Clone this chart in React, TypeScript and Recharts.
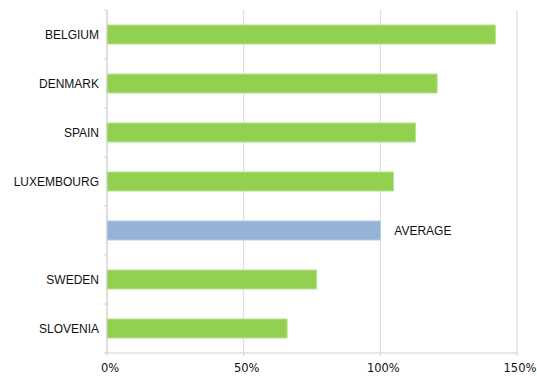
import { Bar, BarChart, CartesianGrid, Cell, LabelList, XAxis, YAxis } from "recharts"

const countries = ["BELGIUM", "DENMARK", "SPAIN", "LUXEMBOURG", "AVERAGE", "SWEDEN", "SLOVENIA"]
const shares = [142.1, 120.8, 112.9, 104.8, 100, 76.7, 65.9]
const xTicks = [0, 50, 100, 150]

const AVG = "AVERAGE"
const GREEN = "#92d050"
const BLUE = "#95b3d7"

const data = countries.map((name, i) => ({ name, value: shares[i] }))

const W = 537
const H = 378
const TOP = 10
const BOTTOM = 25

// category label + little boundary tick at the top of each band
function CountryTick(props: any) {
  const { x, y, payload, index } = props
  const band = (H - TOP - BOTTOM) / countries.length
  const name = payload.value as string
  return (
    <g>
      <line x1={x + 5} x2={x + 8} y1={y - band / 2} y2={y - band / 2} stroke="#d4d4d4" />
      {index === countries.length - 1 && (
        <line x1={x + 5} x2={x + 8} y1={y + band / 2} y2={y + band / 2} stroke="#d4d4d4" />
      )}
      {name !== AVG && (
        <text
          x={x}
          y={y}
          dy={4}
          textAnchor="end"
          fill="#111"
          fontSize={12}
          fontFamily="'Liberation Sans', Arial, sans-serif"
        >
          {name}
        </text>
      )}
    </g>
  )
}

function AvgLabel(props: any) {
  const { x, y, width, height, index } = props
  if (countries[index] !== AVG) return null
  return (
    <text
      x={x + width + 14}
      y={y + height / 2}
      dy={4}
      fill="#111"
      fontSize={12}
      fontFamily="'Liberation Sans', Arial, sans-serif"
    >
      {AVG}
    </text>
  )
}

function PctTick(props: any) {
  const { x, y, payload } = props
  return (
    <text
      x={x + 3}
      y={y + 14}
      textAnchor="middle"
      fill="#111"
      fontSize={11.5}
      fontFamily="'DejaVu Sans', Verdana, sans-serif"
    >
      {`${payload.value}%`}
    </text>
  )
}

export default function App() {
  return (
    <div style={{ position: "absolute", left: 0, top: 0, width: W, height: H, background: "#fff" }}>
      <BarChart
        width={W}
        height={H}
        data={data}
        layout="vertical"
        margin={{ top: TOP, right: 20, bottom: 0, left: 0 }}
        barCategoryGap="60%"
      >
        <CartesianGrid horizontal={false} stroke="#d9d9d9" />
        <XAxis
          type="number"
          domain={[0, 150]}
          ticks={xTicks}
          height={BOTTOM}
          tick={<PctTick />}
          axisLine={{ stroke: "#d0d0d0" }}
          tickLine={{ stroke: "#d0d0d0" }}
          tickSize={3}
        />
        <YAxis
          type="category"
          dataKey="name"
          width={107}
          axisLine={{ stroke: "#d0d0d0" }}
          tickLine={false}
          tick={<CountryTick />}
          interval={0}
        />
        <Bar dataKey="value" barSize={19} strokeWidth={1} isAnimationActive={false}>
          {data.map((d) => (
            <Cell key={d.name} fill={d.name === AVG ? BLUE : GREEN} stroke={d.name === AVG ? "#b4c9e3" : "#b8e290"} />
          ))}
          <LabelList dataKey="value" content={<AvgLabel />} />
        </Bar>
      </BarChart>
    </div>
  )
}
